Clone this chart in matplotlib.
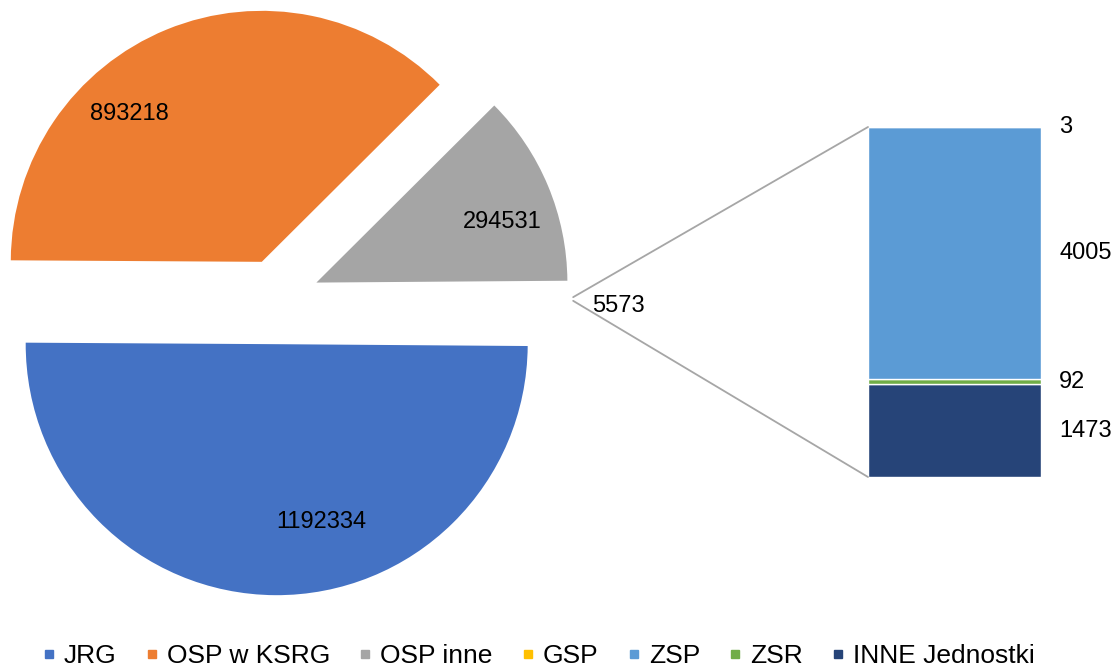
import numpy as np
import matplotlib.pyplot as plt
from matplotlib.lines import Line2D
from matplotlib.patches import ConnectionPatch

plt.rcParams['font.family'] = ['Liberation Sans', 'DejaVu Sans']

# pie part
pie_labels = ['JRG', 'OSP w KSRG', 'OSP inne', 'Inne']
pie_values = [1192334, 893218, 294531, 5573]
pie_colors = ['#4472C4', '#ED7D31', '#A5A5A5', '#FFFFFF']

# bar part (split of the small slice), bottom -> top
bar_labels = ['INNE Jednostki', 'ZSR', 'ZSP', 'GSP']
bar_values = [1473, 92, 4005, 3]
bar_colors = ['#264478', '#70AD47', '#5B9BD5', '#FFC000']

legend_labels = ['JRG', 'OSP w KSRG', 'OSP inne', 'GSP', 'ZSP', 'ZSR', 'INNE Jednostki']
legend_colors = ['#4472C4', '#ED7D31', '#A5A5A5', '#FFC000', '#5B9BD5', '#70AD47', '#264478']

W, H = 1118, 671
R = 251.0            # pie radius in pixels
cx, cy = 277, 299    # pie centre in pixels (from top)
FS = 17

fig = plt.figure(figsize=(W / 100, H / 100), dpi=100)
ax = fig.add_axes([0, 0, 1, 1])

# the small slice sits centred on 0 deg, everything runs clockwise from it
start = -360 * pie_values[-1] / sum(pie_values) / 2
wedges, _ = ax.pie(pie_values, colors=pie_colors, explode=[0.18, 0.16, 0.17, 0.18],
                   startangle=start, counterclock=False, radius=1,
                   wedgeprops=dict(linewidth=0))
ax.set_aspect('auto')
ax.set_xlim(-cx / R, (W - cx) / R)
ax.set_ylim(-(H - cy) / R, cy / R)
ax.axis('off')

# label placement inside each wedge (angle in deg, distance in radii)
lab_pos = [(-76, 0.73), (132, 0.79), (18, 0.78), (-1.4, 1.18)]
for w, v, (a, r) in zip(wedges, pie_values, lab_pos):
    x0, y0 = w.center
    ax.text(x0 + r * np.cos(np.radians(a)), y0 + r * np.sin(np.radians(a)), str(v),
            ha='center', va='center', fontsize=FS, color='black')

# stacked bar
bx0, bx1, by0, by1 = 868, 1041, 127, 477
bax = fig.add_axes([bx0 / W, (H - by1) / H, (bx1 - bx0) / W, (by1 - by0) / H])
bottom = 0
for lab, v, c in zip(bar_labels, bar_values, bar_colors):
    bax.bar(0, v, width=1, bottom=bottom, color=c, edgecolor='white', linewidth=1)
    bax.annotate(str(v), xy=(0.5, bottom + v / 2), xytext=(13, 0), textcoords='offset points',
                 ha='left', va='center', fontsize=FS, color='black')
    bottom += v
bax.set_xlim(-0.5, 0.5)
bax.set_ylim(0, sum(bar_values))
bax.axis('off')

# connector lines from the small slice to the bar
ow = wedges[-1]
ocx, ocy = ow.center
for th, yb in [(ow.theta2, sum(bar_values)), (ow.theta1, 0)]:
    p = (ocx + np.cos(np.radians(th)), ocy + np.sin(np.radians(th)))
    con = ConnectionPatch(xyA=p, coordsA=ax.transData, xyB=(-0.5, yb), coordsB=bax.transData,
                          color='#A6A6A6', linewidth=1.3)
    fig.add_artist(con)

handles = [Line2D([], [], linestyle='none', marker='s', markersize=5.5,
                  markerfacecolor=c, markeredgecolor=c) for c in legend_colors]
fig.legend(handles, legend_labels, loc='lower center', bbox_to_anchor=(0.482, -0.012),
           ncol=7, frameon=False, fontsize=19, handlelength=0.45, handletextpad=0.35,
           columnspacing=1.1, borderaxespad=0)

fig.savefig('out.png', dpi=100)
